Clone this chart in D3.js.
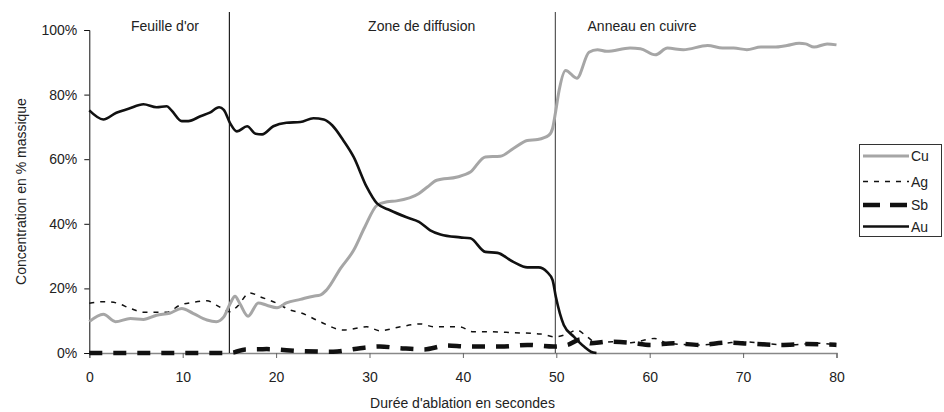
<!DOCTYPE html>
<html><head><meta charset="utf-8">
<script src="https://cdn.jsdelivr.net/npm/d3@7"></script>
<style>body{margin:0;background:#fff}svg{display:block;font-family:"Liberation Sans",Arial,sans-serif}</style>
</head><body><svg id="c" width="944" height="412"></svg>
<script>
const cuT=[0,1.5,2.8,4.4,5.8,7.2,8.6,9.9,11.1,12.6,13.6,14.4,15.1,15.6,16.1,17,18.1,19,20.1,21.1,22.6,24,24.7,25.4,26.9,28.3,29.5,30.8,31.9,32.9,35.3,36.2,37.2,39.4,40.8,42.4,44,45.4,46.9,48,49.2,49.6,49.95,50.3,51,52.2,53.5,54.4,55.4,57.9,59,60.6,61.9,63.6,66.2,67.8,69,70.4,71.9,73.3,74.7,76,76.7,77.6,79,80];
const cuV=[9.7,12,9.7,10.7,10.4,11.7,12.3,13.8,12.3,10.2,9.7,11.2,15.4,17.6,15.4,11.4,15.5,14.8,14,15.5,16.6,17.6,17.9,19.5,26.2,31.8,39,45.7,46.8,47.1,49.4,51.4,53.5,54.5,56,60.7,60.9,63.3,65.8,66.1,67.4,69.5,75.1,81.3,87.5,85.1,93.1,93.9,93.4,94.4,94.2,92.3,94.4,93.9,95.2,94.4,94.4,93.9,94.7,94.7,95.2,95.9,95.7,94.7,95.7,95.4];
const auT=[0,1.5,2.9,4.2,5.8,7.2,8.3,8.8,9.9,10.6,11.9,12.9,13.9,14.4,15.1,15.8,16.9,17.8,18.5,19.7,21.1,22.6,24,25.1,26,27.2,28.3,29.7,30.8,32.2,33.9,35.3,36.5,37.6,39.7,40.8,42.4,43.7,45.4,46.9,48.1,49,49.6,49.95,50.8,51.9,53,53.7,54.3];
const auV=[75.1,72.3,74.4,75.6,77,76.1,76.4,75.1,71.8,71.8,73.3,74.4,76.1,75.3,71,68.6,70.2,67.9,67.7,70.2,71.3,71.5,72.7,72.3,70.5,65.8,60.7,51.4,46.3,44.2,42.1,40.6,38,36.7,35.8,35.5,31.3,31,28.2,26.5,26.5,25.1,22.6,17.4,8.7,5,1.9,0.4,0];
const agT=[0,1.5,2.9,4.4,5.8,8.3,9.7,11.1,12.6,13.6,15.1,15.8,17.2,18.3,20.1,21.5,22.6,24.7,27.2,29.7,31.1,33.3,35.5,36.9,39.7,41,42.6,45.4,48.3,49.9,51.2,52.2,53.3,54.4,56,58,60.5,62,65,68,70,72,75,78,80];
const agV=[15.4,15.9,15.5,13.8,12.6,12.6,14.8,15.7,16.2,14.8,12.8,14.3,18.6,17.4,15.4,13.3,12.5,9.7,7.1,8.1,6.9,8.1,9,8.1,8.1,6.6,6.6,6.3,5.9,5,5.9,7.1,5,3,3.5,3.2,4.5,3,2.5,3,3.5,3,2.5,3,2.5];
const sbT=[0,5,10,15,15.5,16.7,19,22.6,26.1,29,31.1,33.3,35.8,38.3,40.4,44,46.9,49.7,51.2,52.6,53.7,55.4,57.9,60.1,62.6,65.4,68.3,71.2,74,76.9,80];
const sbV=[0,0,0,0,0.2,1.1,1.2,0.6,0.4,1.5,2,1.5,1.1,2.3,2,2,2.5,2,2.5,4.2,3,3.5,3.2,2.5,3,2.5,3.2,2.8,2.5,2.8,2.5];
const xTicks=[0,10,20,30,40,50,60,70,80];
const yTicks=[0,20,40,60,80,100];
const zones=["Feuille d'or","Zone de diffusion","Anneau en cuivre"];
const zoneBounds=[15,49.9];
const legendNames=["Cu","Ag","Sb","Au"];

const svg=d3.select("#c");
const x=d3.scaleLinear().domain([0,80]).range([89.3,836.5]);
const y=d3.scaleLinear().domain([0,100]).range([353,30]);

const styles={
  Cu:{stroke:"#a6a6a6",w:3,dash:null},
  Ag:{stroke:"#111",w:1.5,dash:"5,6"},
  Sb:{stroke:"#111",w:4.5,dash:"13,11"},
  Au:{stroke:"#111",w:2.6,dash:null}
};
const series={
  Cu:cuT.map((t,i)=>[t,cuV[i]]),
  Ag:agT.map((t,i)=>[t,agV[i]]),
  Sb:sbT.map((t,i)=>[t,sbV[i]]),
  Au:auT.map((t,i)=>[t,auV[i]])
};

// axes
const gx=svg.append("g").attr("transform",`translate(0,${y(0)})`)
  .call(d3.axisBottom(x).tickValues(xTicks).tickSize(5).tickPadding(14).tickFormat(d3.format("d")));
gx.select(".domain").attr("stroke","#888").attr("stroke-width",1.5);
gx.selectAll(".tick line").attr("stroke","#666");
gx.selectAll("text").attr("font-size",14).attr("fill","#222").attr("font-family","Liberation Sans, Arial, sans-serif");

const gy=svg.append("g").attr("transform",`translate(${x(0)},0)`)
  .call(d3.axisLeft(y).tickValues(yTicks).tickSize(5).tickPadding(7).tickFormat(d=>d+"%"));
gy.select(".domain").attr("stroke","#111");
gy.selectAll(".tick line").attr("stroke","#111");
gy.selectAll("text").attr("font-size",14).attr("fill","#222").attr("font-family","Liberation Sans, Arial, sans-serif");

// zone separators
svg.selectAll("line.zone").data(zoneBounds).enter().append("line")
  .attr("x1",d=>x(d)).attr("x2",d=>x(d)).attr("y1",12).attr("y2",y(0))
  .attr("stroke",(d,i)=>i?"#555":"#222").attr("stroke-width",1.2);

const zoneX=[165,421.7,642];
svg.selectAll("text.zone").data(zones).enter().append("text")
  .attr("x",(d,i)=>zoneX[i]).attr("y",31).attr("text-anchor","middle")
  .attr("font-size",14).attr("fill","#222").text(d=>d);

// lines
const line=d3.line().x(d=>x(d[0])).y(d=>y(d[1])).curve(d3.curveMonotoneX);
["Sb","Ag","Cu","Au"].forEach(k=>{
  const s=styles[k];
  svg.append("path").datum(series[k]).attr("d",line).attr("fill","none")
    .attr("stroke",s.stroke).attr("stroke-width",s.w).attr("stroke-dasharray",s.dash)
    .attr("stroke-linejoin","round");
});

// axis titles
svg.append("text").attr("x",462.5).attr("y",408).attr("text-anchor","middle")
  .attr("font-size",14).attr("fill","#222").text("Durée d'ablation en secondes");
svg.append("text").attr("transform",`translate(26,191.5) rotate(-90)`).attr("text-anchor","middle")
  .attr("font-size",14).attr("fill","#222").text("Concentration en % massique");

// legend
const lg=svg.append("g");
lg.append("rect").attr("x",859.5).attr("y",144.5).attr("width",82).attr("height",92)
  .attr("fill","#fff").attr("stroke","#333").attr("stroke-width",1);
const ly=[156,181.5,205,226.5];
legendNames.forEach((k,i)=>{
  const s=styles[k];
  lg.append("line").attr("x1",863).attr("x2",909).attr("y1",ly[i]).attr("y2",ly[i])
    .attr("stroke",s.stroke).attr("stroke-width",s.w).attr("stroke-dasharray",k==="Sb"?"17,10":s.dash);
  lg.append("text").attr("x",911).attr("y",ly[i]+5).attr("font-size",14).attr("fill","#222").text(k);
});
</script></body></html>
